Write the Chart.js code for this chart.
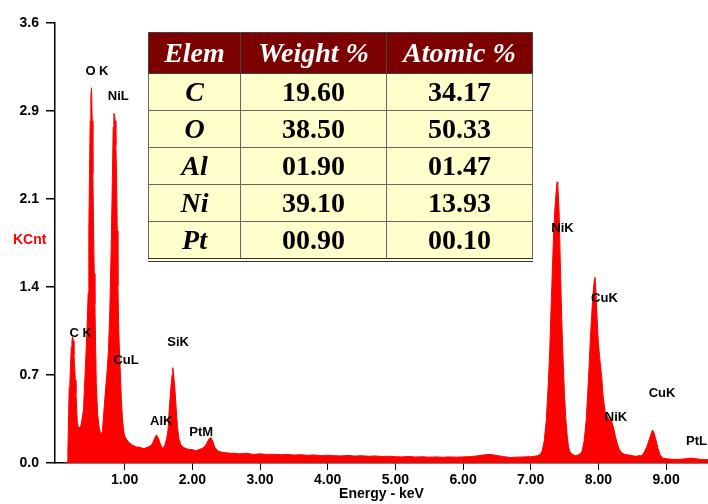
<!DOCTYPE html>
<html>
<head>
<meta charset="utf-8">
<script src="https://cdn.jsdelivr.net/npm/chart.js@4.4.0/dist/chart.umd.min.js"></script>
<style>
body{margin:0;background:#fff;}
#wrap{position:relative;width:708px;height:504px;}
#kcnt{position:absolute;left:13px;top:231px;color:#ff0000;font:bold 14px "Liberation Sans",Arial,sans-serif;}
table{position:absolute;left:148px;top:32px;border-collapse:collapse;font-family:"Liberation Serif","Times New Roman",serif;font-weight:bold;font-size:28px;border-bottom:4px double #333;}
th{background:#7d0000;color:#fff;font-style:italic;height:40px;padding:0;border:1px solid #444;}
td{background:#ffffcc;color:#000;height:36px;padding:0;text-align:center;border:1px solid #666;}
td.el{font-style:italic;}
</style>
</head>
<body>
<div id="wrap">
<canvas id="c" width="708" height="504"></canvas>
<div id="kcnt">KCnt</div>
<table id="tab"></table>
</div>
<script>
const energy = [0.10,0.15,0.16,0.17,0.18,0.19,0.20,0.21,0.22,0.23,0.24,0.25,0.26,0.27,0.28,0.29,0.30,0.31,0.33,0.35,0.37,
  0.39,0.40,0.42,0.44,0.46,0.47,0.48,0.49,0.50,0.51,0.52,0.53,0.54,0.55,0.56,0.58,0.60,0.62,0.64,0.65,0.67,0.68,0.70,0.72,0.74,
  0.76,0.78,0.80,0.82,0.83,0.84,0.85,0.86,0.87,0.88,0.89,0.90,0.91,0.92,0.935,0.95,0.965,0.98,1.00,1.03,1.06,1.10,1.14,1.18,
  1.22,1.26,1.30,1.34,1.38,1.41,1.44,1.47,1.50,1.53,1.56,1.59,1.62,1.64,1.66,1.68,1.70,1.71,1.72,1.74,1.76,1.78,1.80,1.83,1.86,
  1.90,1.95,2.00,2.05,2.10,2.15,2.19,2.22,2.25,2.27,2.30,2.33,2.37,2.42,2.48,2.55,2.60,2.70,2.80,2.90,3.00,3.10,3.20,3.30,3.40,
  3.50,3.60,3.70,3.80,3.90,4.00,4.10,4.20,4.30,4.40,4.50,4.60,4.70,4.80,4.90,5.00,5.10,5.20,5.30,5.40,5.50,5.60,5.70,5.80,5.90,
  6.00,6.10,6.20,6.30,6.40,6.50,6.60,6.70,6.80,6.90,7.00,7.05,7.10,7.14,7.17,7.20,7.23,7.26,7.28,7.30,7.32,7.34,7.36,7.38,7.39,
  7.40,7.42,7.44,7.46,7.48,7.50,7.52,7.54,7.56,7.58,7.62,7.66,7.70,7.74,7.76,7.79,7.82,7.84,7.86,7.88,7.90,7.92,7.94,7.95,7.96,
  7.98,8.00,8.03,8.05,8.07,8.10,8.13,8.16,8.19,8.22,8.25,8.28,8.31,8.35,8.40,8.45,8.50,8.55,8.60,8.64,8.68,8.72,8.75,8.78,8.80,
  8.82,8.85,8.88,8.91,8.95,9.00,9.10,9.20,9.30,9.35,9.40,9.50,9.60,9.65]
const kcnt = [0,0,0.08,0.36,0.62,0.66,0.80,0.95,1.00,1.03,1.00,0.88,0.79,0.68,0.57,0.45,0.33,0.30,0.29,0.30,0.36,
  0.43,0.55,0.80,1.05,1.39,1.90,2.37,2.80,3.00,3.07,2.80,2.37,1.90,1.55,1.30,0.65,0.40,0.30,0.25,0.23,0.26,0.33,0.48,0.62,0.75,
  0.92,1.25,1.75,2.40,2.75,2.86,2.84,2.80,2.60,2.34,1.90,1.45,1.15,0.95,0.75,0.52,0.38,0.28,0.22,0.19,0.17,0.15,0.14,0.13,
  0.13,0.12,0.12,0.13,0.14,0.16,0.20,0.23,0.20,0.15,0.12,0.14,0.20,0.27,0.45,0.60,0.72,0.78,0.74,0.62,0.45,0.30,0.20,0.15,0.13,
  0.12,0.11,0.11,0.10,0.11,0.12,0.14,0.17,0.20,0.21,0.18,0.13,0.10,0.09,0.085,0.08,0.08,0.075,0.08,0.07,0.075,0.07,0.072,0.068,0.07,
  0.065,0.068,0.063,0.066,0.06,0.064,0.06,0.058,0.062,0.057,0.06,0.055,0.058,0.053,0.055,0.052,0.05,0.053,0.049,0.051,0.048,0.05,0.047,0.05,0.048,
  0.05,0.052,0.058,0.066,0.07,0.062,0.052,0.045,0.048,0.05,0.052,0.055,0.06,0.07,0.10,0.18,0.35,0.65,0.90,1.25,1.58,1.90,2.10,2.25,2.30,
  2.28,2.05,1.58,1.15,0.82,0.55,0.35,0.22,0.13,0.09,0.07,0.06,0.065,0.08,0.10,0.18,0.35,0.55,0.76,1.00,1.20,1.38,1.50,1.52,1.45,
  1.20,0.98,0.80,0.70,0.55,0.42,0.38,0.36,0.35,0.30,0.22,0.16,0.11,0.08,0.07,0.065,0.06,0.055,0.06,0.06,0.09,0.14,0.19,0.24,0.27,
  0.25,0.19,0.12,0.07,0.04,0.035,0.03,0.03,0.035,0.04,0.038,0.03,0.028,0.025]

const xTicks = [1,2,3,4,5,6,7,8,9]
const yTicks = [0,0.72,1.44,2.16,2.88,3.6]
const yTickLabels = ["0.0","0.7","1.4","2.1","2.9","3.6"]

const peakNames = ["C K","O K","NiL","CuL","AlK","SiK","PtM","NiK","CuK","NiK","CuK","PtL"]
const peakKeV = [0.35,0.59,0.905,1.02,1.54,1.79,2.13,7.47,8.09,8.26,8.94,9.45]
const peakKCnt = [1.06,3.20,3.00,0.84,0.34,0.99,0.25,1.92,1.35,0.37,0.57,0.18]

const elems = ["C","O","Al","Ni","Pt"]
const weightPct = ["19.60","38.50","01.90","39.10","00.90"]
const atomicPct = ["34.17","50.33","01.47","13.93","00.10"]

let tab = document.getElementById("tab")
let head = "<tr><th style='width:91px'>Elem</th><th style='width:145px'>Weight %</th><th style='width:145px'>Atomic %</th></tr>"
let rows = ""
for (let i = 0; i < elems.length; i++) {
  rows += "<tr><td class='el'>" + elems[i] + "</td><td>" + weightPct[i] + "</td><td>" + atomicPct[i] + "</td></tr>"
}
tab.innerHTML = head + rows

const peakLabels = {
  id: "peakLabels",
  afterDatasetsDraw(chart) {
    let ctx = chart.ctx
    let xs = chart.scales.x
    let ys = chart.scales.y
    ctx.save()
    ctx.font = "bold 13px 'Liberation Sans', Arial, sans-serif"
    ctx.fillStyle = "#000"
    ctx.textAlign = "center"
    ctx.textBaseline = "middle"
    for (let i = 0; i < peakNames.length; i++) {
      ctx.fillText(peakNames[i], xs.getPixelForValue(peakKeV[i]), ys.getPixelForValue(peakKCnt[i]))
    }
    ctx.restore()
  }
}

const tickFont = { family: "'Liberation Sans', Arial, sans-serif", size: 14, weight: "bold" }

new Chart(document.getElementById("c"), {
  type: "line",
  data: {
    datasets: [{
      data: energy.map((e, i) => ({ x: e, y: kcnt[i] })),
      borderColor: "#ff0000",
      backgroundColor: "#ff0000",
      borderWidth: 1,
      pointRadius: 0,
      fill: "origin",
      tension: 0
    }]
  },
  options: {
    responsive: false,
    animation: false,
    layout: { padding: { top: 23, right: 0, left: 0, bottom: 0 } },
    plugins: { legend: { display: false }, tooltip: { enabled: false } },
    scales: {
      x: {
        type: "linear",
        min: -0.03,
        max: 9.62,
        afterBuildTicks: (s) => { s.ticks = xTicks.map(v => ({ value: v })) },
        afterFit: (s) => { s.height = 41 },
        ticks: { color: "#000", font: tickFont, padding: 2, maxRotation: 0, callback: (v) => v.toFixed(2) },
        grid: { drawOnChartArea: false, color: "#000", tickLength: 7, lineWidth: 1 },
        border: { color: "#000", width: 1.5 },
        title: { display: true, text: "Energy - keV", color: "#000", font: tickFont, padding: { top: 0, bottom: 1 } }
      },
      y: {
        min: 0,
        max: 3.6,
        afterBuildTicks: (s) => { s.ticks = yTicks.map(v => ({ value: v })) },
        afterFit: (s) => { s.width = 55 },
        ticks: { color: "#000", font: tickFont, padding: 7, callback: (v, i) => yTickLabels[i] },
        grid: { drawOnChartArea: false, color: "#000", tickLength: 9, lineWidth: 1.5 },
        border: { color: "#000", width: 1.5 }
      }
    }
  },
  plugins: [peakLabels]
})
</script>
</body>
</html>
